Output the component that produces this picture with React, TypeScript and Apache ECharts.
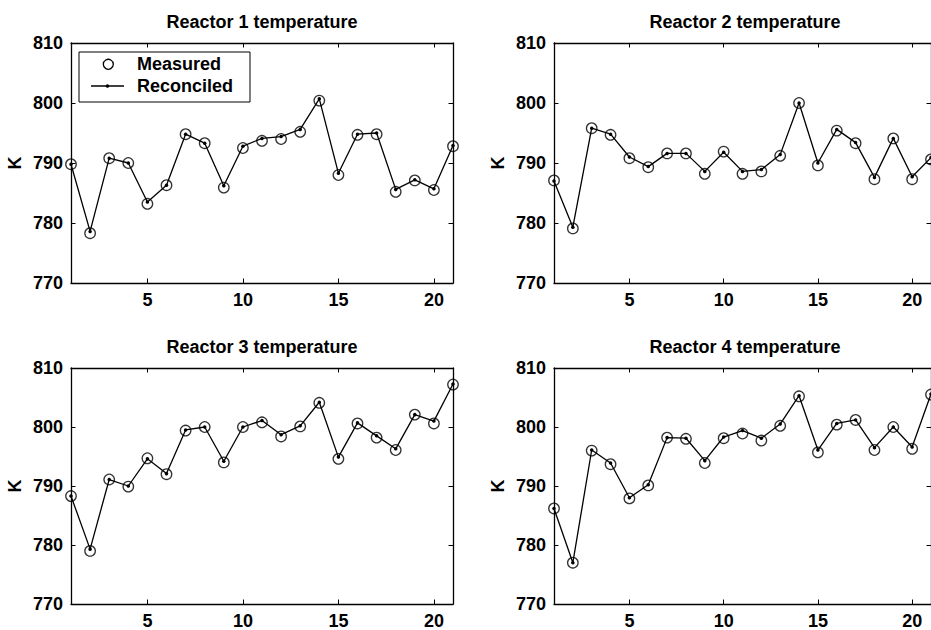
import React, { useEffect, useRef } from "react";
import * as echarts from "echarts";

const steps = [1, 2, 3, 4, 5, 6, 7, 8, 9, 10, 11, 12, 13, 14, 15, 16, 17, 18, 19, 20, 21];
const xTickValues = [5, 10, 15, 20];
const titles = ["Reactor 1 temperature", "Reactor 2 temperature", "Reactor 3 temperature", "Reactor 4 temperature"];
const legendNames = ["Measured", "Reconciled"];

const measured1 = [789.8, 778.3, 790.8, 790.0, 783.2, 786.3, 794.8, 793.3, 785.9, 792.5, 793.7, 794.0, 795.2, 800.4, 788.0, 794.7, 794.8, 785.2, 787.1, 785.5, 792.8];
const reconciled1 = [789.8, 778.6, 790.8, 790.0, 783.5, 786.3, 794.8, 793.3, 786.2, 792.8, 794.1, 794.4, 795.6, 800.7, 788.3, 794.8, 795.0, 785.6, 787.2, 785.7, 792.9];

const measured2 = [787.1, 779.1, 795.8, 794.7, 790.8, 789.3, 791.6, 791.6, 788.2, 791.9, 788.2, 788.6, 791.2, 800.0, 789.6, 795.4, 793.3, 787.3, 794.1, 787.3, 790.6];
const reconciled2 = [787.0, 779.3, 795.8, 794.8, 791.0, 789.4, 791.6, 791.6, 788.6, 791.8, 788.6, 788.9, 791.4, 800.0, 790.0, 795.6, 793.4, 787.6, 794.1, 787.7, 790.9];

const measured3 = [788.3, 779.0, 791.1, 789.9, 794.7, 792.0, 799.4, 800.0, 794.0, 800.0, 800.8, 798.4, 800.1, 804.1, 794.6, 800.6, 798.2, 796.1, 802.1, 800.6, 807.2];
const reconciled3 = [788.3, 779.3, 791.1, 790.0, 794.6, 792.1, 799.5, 800.0, 794.2, 800.0, 801.1, 798.7, 800.2, 804.2, 794.9, 800.7, 798.5, 796.3, 802.1, 801.0, 807.3];

const measured4 = [786.2, 777.0, 796.0, 793.7, 787.9, 790.1, 798.2, 798.0, 793.9, 798.1, 798.9, 797.7, 800.2, 805.2, 795.7, 800.4, 801.2, 796.1, 800.0, 796.3, 805.5];
const reconciled4 = [786.2, 777.0, 796.1, 793.9, 788.0, 790.2, 798.2, 798.1, 794.3, 798.3, 799.4, 798.1, 800.5, 805.3, 796.1, 800.6, 801.2, 796.5, 800.0, 796.6, 805.6];

const measuredAll = [measured1, measured2, measured3, measured4];
const reconciledAll = [reconciled1, reconciled2, reconciled3, reconciled4];

const FONT = "'Liberation Sans', Arial, Helvetica, sans-serif";

export default function App() {
  const ref = useRef<HTMLDivElement>(null);
  useEffect(() => {
    if (!ref.current) return;
    const chart = echarts.init(ref.current, null, { renderer: "svg" });
    const gridPos = [
      { left: 71, top: 43 },
      { left: 554, top: 43 },
      { left: 71, top: 368 },
      { left: 554, top: 368 },
    ];
    const W = 382;
    const H = 240;
    const axisLine = { show: true, onZero: false, lineStyle: { color: "#000", width: 1.3 } };
    const tickStyle = { color: "#000", width: 1 };
    const labelStyle = { color: "#000", fontFamily: FONT, fontWeight: "bold" as const, fontSize: 18 };

    const grid: any[] = [];
    const xAxis: any[] = [];
    const yAxis: any[] = [];
    const series: any[] = [];
    const title: any[] = [];

    gridPos.forEach((g, i) => {
      grid.push({ left: g.left, top: g.top, width: W, height: H, containLabel: false });
      title.push({
        text: titles[i],
        left: g.left + W / 2,
        top: g.top - 30,
        textAlign: "center",
        padding: 0,
        textStyle: { color: "#000", fontFamily: FONT, fontWeight: "bold", fontSize: 18 },
      });
      xAxis.push({
        type: "value", gridIndex: i, position: "bottom", min: 1, max: 21,
        axisLine, splitLine: { show: false },
        axisTick: { show: true, inside: true, length: 4.5, lineStyle: tickStyle, customValues: xTickValues },
        axisLabel: { ...labelStyle, margin: 8, customValues: xTickValues },
      });
      xAxis.push({
        type: "value", gridIndex: i, position: "top", min: 1, max: 21,
        axisLine, splitLine: { show: false },
        axisTick: { show: true, inside: true, length: 4.5, lineStyle: tickStyle, customValues: xTickValues },
        axisLabel: { show: false },
      });
      yAxis.push({
        type: "value", gridIndex: i, position: "left", min: 770, max: 810, interval: 10,
        axisLine, splitLine: { show: false },
        axisTick: { show: true, inside: true, length: 4.5, lineStyle: tickStyle },
        axisLabel: { ...labelStyle, margin: 8 },
        name: "K", nameLocation: "middle", nameRotate: 90, nameGap: 47,
        nameTextStyle: { color: "#000", fontFamily: FONT, fontWeight: "bold", fontSize: 18 },
      });
      yAxis.push({
        type: "value", gridIndex: i, position: "right", min: 770, max: 810, interval: 10,
        axisLine, splitLine: { show: false },
        axisTick: { show: true, inside: true, length: 4.5, lineStyle: tickStyle },
        axisLabel: { show: false },
      });
      series.push({
        name: legendNames[0], type: "scatter", xAxisIndex: 2 * i, yAxisIndex: 2 * i,
        symbol: "circle", symbolSize: 10.5, clip: false, silent: true,
        itemStyle: { color: "rgba(0,0,0,0)", borderColor: "#000", borderWidth: 1.3 },
        data: steps.map((s, k) => [s, measuredAll[i][k]]),
        z: 3,
      });
      series.push({
        name: legendNames[1], type: "line", xAxisIndex: 2 * i, yAxisIndex: 2 * i,
        symbol: "circle", symbolSize: 3.5, showSymbol: true, clip: false, silent: true,
        lineStyle: { color: "#000", width: 1.3 },
        itemStyle: { color: "#000", borderWidth: 0 },
        data: steps.map((s, k) => [s, reconciledAll[i][k]]),
        z: 4,
      });
    });

    const graphic = [
      { type: "rect", shape: { x: 79, y: 52, width: 171, height: 50 }, style: { fill: "#fff", stroke: "#000", lineWidth: 1 }, z: 100 },
      { type: "circle", shape: { cx: 108.3, cy: 64.3, r: 5 }, style: { fill: "none", stroke: "#000", lineWidth: 1.3 }, z: 101 },
      { type: "line", shape: { x1: 91, y1: 86, x2: 124, y2: 86 }, style: { stroke: "#000", lineWidth: 1.3 }, z: 101 },
      { type: "circle", shape: { cx: 107.5, cy: 86, r: 1.8 }, style: { fill: "#000" }, z: 102 },
      { type: "text", x: 137, y: 64.3, style: { text: legendNames[0], fill: "#000", font: `bold 18px ${FONT}`, verticalAlign: "middle", align: "left" }, z: 101 },
      { type: "text", x: 137, y: 86, style: { text: legendNames[1], fill: "#000", font: `bold 18px ${FONT}`, verticalAlign: "middle", align: "left" }, z: 101 },
    ];

    chart.setOption({
      animation: false,
      backgroundColor: "#fff",
      title, grid, xAxis, yAxis, series, graphic,
    });
    return () => chart.dispose();
  }, []);
  return <div ref={ref} style={{ position: "fixed", left: 0, top: 0, width: 931, height: 630 }} />;
}
